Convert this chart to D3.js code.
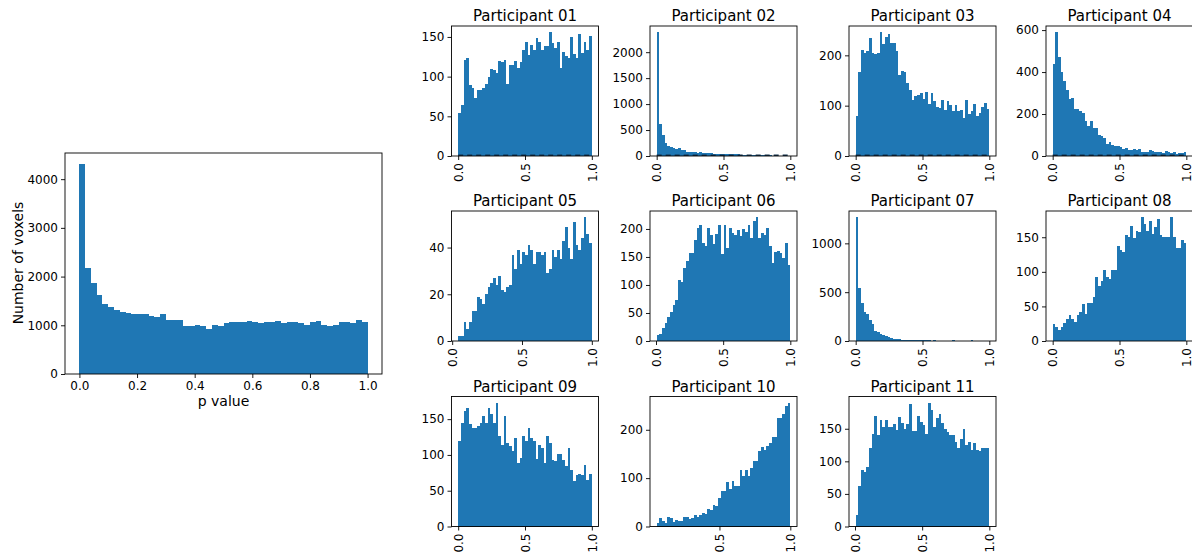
<!DOCTYPE html>
<html>
<head>
<meta charset="utf-8">
<script src="https://cdn.jsdelivr.net/npm/d3@7"></script>
<style>
  body { margin: 0; background: #fff; }
  svg text { font-family: "DejaVu Sans", sans-serif; fill: #000; }
</style>
</head>
<body>
<div id="chart"></div>
<script>
// pooled histogram, 50 bins over [0, 1]
const pooled = [4321, 2184, 1863, 1625, 1440, 1372, 1317, 1276, 1256, 1242,
  1222, 1235, 1195, 1174, 1235, 1113, 1113, 1113, 990, 990,
  1010, 990, 928, 1010, 990, 1038, 1058, 1072, 1072, 1092,
  1072, 1038, 1072, 1072, 1092, 1038, 1072, 1072, 1038, 1010,
  1072, 1092, 1010, 976, 1010, 1072, 1072, 1038, 1113, 1072];
const pooledTicksX = [0, 0.2, 0.4, 0.6, 0.8, 1.0];
const pooledTicksY = [0, 1000, 2000, 3000, 4000];

// per participant histograms, 50 bins each
const p01 = [54, 64, 121, 123, 89, 86, 73, 83, 83, 86, 91, 100, 110, 108, 105, 120, 118, 121, 91, 115,
  115, 120, 111, 118, 134, 144, 127, 140, 134, 149, 144, 134, 139, 139, 156, 142, 136, 144, 111, 131,
  126, 123, 150, 128, 123, 154, 130, 144, 134, 151];
const p02 = [2385, 615, 404, 250, 192, 173, 160, 141, 154, 122, 115, 83, 83, 83, 77, 64, 77, 58, 64, 58,
  58, 38, 45, 38, 38, 35, 35, 35, 35, 32, 30, 28, 26, 25, 25, 22, 20, 15, 15, 12,
  12, 10, 10, 8, 8, 8, 6, 8, 6, 5];
const p03 = [79, 167, 211, 204, 209, 234, 205, 203, 205, 246, 222, 236, 242, 225, 224, 209, 160, 169, 166, 145,
  132, 111, 119, 121, 125, 114, 127, 103, 125, 109, 97, 95, 111, 91, 109, 101, 89, 101, 89, 91,
  75, 111, 83, 89, 103, 79, 85, 97, 105, 93];
const p04 = [438, 590, 471, 400, 357, 314, 271, 276, 224, 224, 214, 205, 167, 143, 167, 133, 133, 100, 95, 86,
  57, 67, 52, 48, 48, 43, 35, 38, 29, 29, 32, 30, 33, 19, 19, 19, 27, 24, 17, 17,
  21, 16, 22, 19, 13, 17, 11, 14, 13, 19];
const p05 = [2, 2, 8, 5, 8, 13, 13, 19, 18, 16, 20, 23, 25, 27, 24, 28, 22, 21, 23, 24,
  37, 31, 39, 33, 38, 37, 41, 39, 33, 38, 38, 37, 38, 29, 31, 39, 36, 39, 35, 43,
  49, 40, 35, 51, 41, 39, 44, 53, 46, 42];
const p06 = [10, 13, 24, 33, 42, 51, 65, 74, 109, 105, 130, 142, 157, 157, 180, 202, 207, 175, 170, 202,
  189, 173, 191, 207, 155, 207, 166, 202, 193, 189, 198, 187, 200, 194, 207, 184, 214, 221, 184, 193,
  189, 202, 169, 140, 158, 160, 157, 149, 175, 135];
const p07 = [1268, 546, 392, 299, 278, 216, 175, 103, 93, 72, 58, 52, 41, 31, 24, 24, 21, 14, 14, 12,
  12, 10, 10, 8, 8, 6, 6, 12, 5, 12, 5, 5, 5, 5, 5, 5, 12, 5, 5, 3,
  3, 3, 3, 12, 3, 3, 3, 3, 3, 3];
const p08 = [25, 20, 16, 20, 26, 32, 38, 32, 28, 38, 42, 54, 39, 55, 55, 64, 93, 79, 87, 102,
  93, 90, 103, 103, 137, 131, 128, 153, 151, 166, 149, 159, 157, 179, 169, 159, 173, 154, 165, 176,
  153, 151, 151, 151, 179, 150, 135, 135, 146, 141];
const p09 = [120, 144, 162, 166, 143, 138, 138, 140, 144, 155, 144, 165, 157, 145, 173, 127, 114, 154, 116, 112,
  105, 124, 89, 96, 127, 120, 137, 124, 120, 95, 114, 109, 89, 126, 117, 93, 91, 102, 102, 93,
  84, 110, 79, 64, 72, 74, 72, 86, 65, 74];
const p10 = [8, 18, 12, 8, 20, 18, 9, 14, 12, 12, 20, 20, 15, 18, 24, 20, 23, 28, 26, 37,
  34, 45, 43, 59, 74, 74, 92, 78, 94, 84, 84, 117, 105, 117, 105, 121, 136, 136, 157, 165,
  159, 167, 173, 186, 186, 225, 225, 233, 250, 256];
const p11 = [18, 62, 87, 84, 92, 121, 142, 170, 141, 164, 153, 164, 152, 152, 158, 148, 168, 159, 150, 158,
  188, 147, 147, 170, 161, 156, 142, 190, 179, 153, 166, 173, 159, 150, 145, 141, 141, 130, 121, 135,
  150, 125, 130, 118, 128, 118, 116, 121, 121, 121];

const participants = ["01", "02", "03", "04", "05", "06", "07", "08", "09", "10", "11"];
const counts = [p01, p02, p03, p04, p05, p06, p07, p08, p09, p10, p11];
// smallest p value in each participant (first bin edge); largest is 1.0
const minP = [0, 0, 0, 0, 0.043, 0.005, 0, 0, 0, 0.057, 0.005];
const yTicks = [[0, 50, 100, 150], [0, 500, 1000, 1500, 2000], [0, 100, 200], [0, 200, 400, 600],
  [0, 20, 40], [0, 50, 100, 150, 200], [0, 500, 1000], [0, 50, 100, 150],
  [0, 50, 100, 150], [0, 100, 200], [0, 50, 100, 150]];
const xTicks = [0, 0.5, 1.0];

const svg = d3.select("#chart").append("svg")
  .attr("width", 1192)
  .attr("height", 553);

function histogram(g, data, lo, hi, w, h, tx, ty, rotate, dashed) {
  const pad = 0.05 * (hi - lo);
  const x = d3.scaleLinear().domain([lo - pad, hi + pad]).range([0, w]);
  const y = d3.scaleLinear().domain([0, d3.max(data) * 1.05]).range([h, 0]);
  const step = (hi - lo) / data.length;

  g.selectAll("rect.bar")
    .data(data)
    .enter()
    .append("rect")
    .attr("class", "bar")
    .attr("x", (d, i) => x(lo + i * step))
    .attr("width", (d, i) => x(lo + (i + 1) * step) - x(lo + i * step))
    .attr("y", d => y(d))
    .attr("height", d => h - y(d))
    .attr("fill", "#1f77b4")
    .attr("shape-rendering", "crispEdges");

  // dark dashed baseline seen under the top row panels
  if (dashed) {
    g.append("line")
      .attr("x1", x(lo)).attr("x2", x(hi))
      .attr("y1", y(0) - 0.8).attr("y2", y(0) - 0.8)
      .attr("stroke", "#15324d")
      .attr("stroke-width", 1.6)
      .attr("stroke-dasharray", "5,4");
  }

  const dom = x.domain();
  const xa = g.append("g")
    .attr("transform", `translate(0,${h})`)
    .call(d3.axisBottom(x)
      .tickValues(tx.filter(t => t >= dom[0] && t <= dom[1]))
      .tickFormat(d3.format(".1f"))
      .tickSize(4).tickPadding(3));
  const ya = g.append("g")
    .call(d3.axisLeft(y).tickValues(ty).tickFormat(d3.format("d")).tickSize(4).tickPadding(3));

  [xa, ya].forEach(a => {
    a.attr("font-family", null).attr("font-size", null);
    a.select(".domain").remove();
    a.selectAll("line").attr("stroke", "#000").attr("stroke-width", 0.9);
    a.selectAll("text").style("font-size", "12px");
  });

  if (rotate) {
    xa.selectAll("text")
      .attr("transform", "rotate(-90)")
      .attr("text-anchor", "end")
      .attr("x", -7)
      .attr("y", 0)
      .attr("dy", "0.35em");
  }

  // frame
  g.append("rect")
    .attr("x", 0).attr("y", 0)
    .attr("width", w).attr("height", h)
    .attr("fill", "none")
    .attr("stroke", "#000")
    .attr("stroke-width", 0.9);
}

// big pooled chart
const big = svg.append("g").attr("transform", "translate(65,153)");
histogram(big, pooled, 0, 1, 317, 221, pooledTicksX, pooledTicksY, false, false);

big.append("text")
  .attr("x", 317 / 2)
  .attr("y", 253)
  .attr("text-anchor", "middle")
  .style("font-size", "14px")
  .text("p value");

big.append("text")
  .attr("transform", "rotate(-90)")
  .attr("x", -110)
  .attr("y", -42)
  .attr("text-anchor", "middle")
  .style("font-size", "14px")
  .text("Number of voxels");

// small multiples
const colX = [451.5, 650, 849, 1046];
const rowY = [26, 211, 396.5];
const pw = 147, ph = 130;

participants.forEach((p, i) => {
  const row = Math.floor(i / 4);
  const g = svg.append("g")
    .attr("transform", `translate(${colX[i % 4]},${rowY[row]})`);
  histogram(g, counts[i], minP[i], 1.0, pw, ph, xTicks, yTicks[i], true, row === 0);
  g.append("text")
    .attr("x", pw / 2)
    .attr("y", -5)
    .attr("text-anchor", "middle")
    .style("font-size", "15px")
    .text("Participant " + p);
});
</script>
</body>
</html>
